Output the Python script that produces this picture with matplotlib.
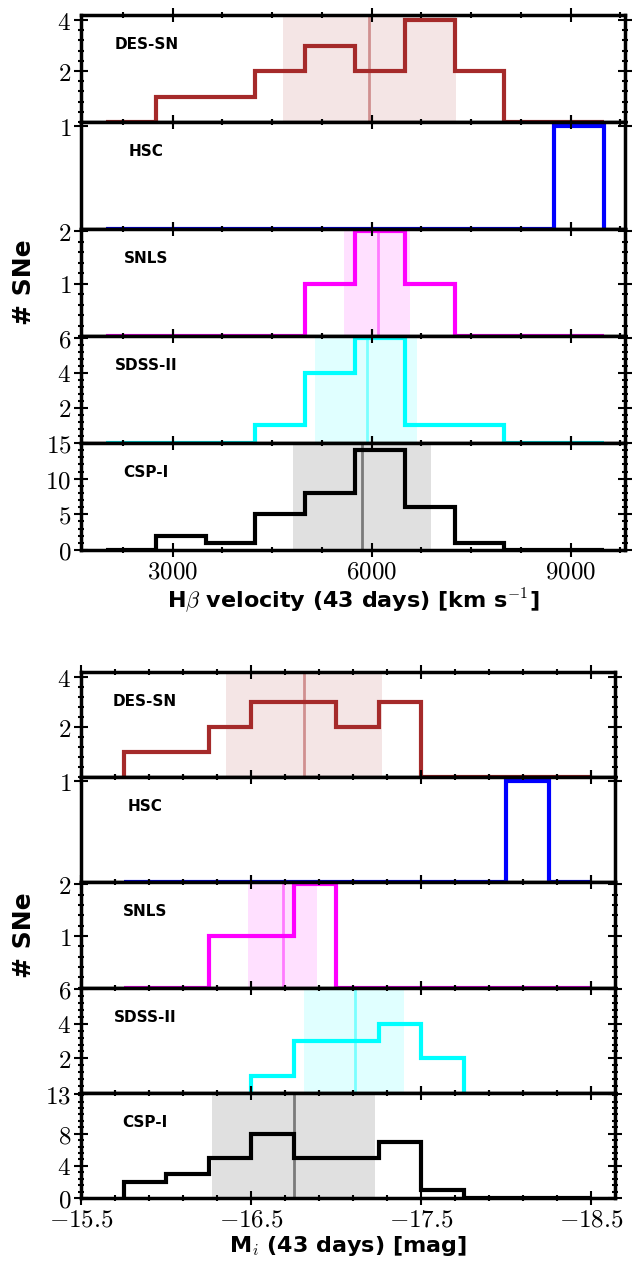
import matplotlib.pyplot as plt
import numpy as np
from matplotlib.ticker import AutoMinorLocator, FuncFormatter

plt.rcParams['mathtext.fontset'] = 'cm'
plt.rcParams['font.family'] = 'DejaVu Sans'

surveys = ['DES-SN', 'HSC', 'SNLS', 'SDSS-II', 'CSP-I']
colors = ['brown', 'blue', 'magenta', 'cyan', 'black']

# velocity panel
vel_edges = np.arange(2000, 9501, 750)
vel_counts = [
    [0, 1, 1, 2, 3, 2, 4, 2, 0, 0],
    [0, 0, 0, 0, 0, 0, 0, 0, 0, 1],
    [0, 0, 0, 0, 1, 2, 1, 0, 0, 0],
    [0, 0, 0, 1, 4, 6, 1, 1, 0, 0],
    [0, 2, 1, 5, 8, 14, 6, 1, 0, 0],
]
vel_median = [5960, None, 6090, 5930, 5860]
vel_band = [(4670, 7270), None, (5590, 6580), (5150, 6690), (4820, 6900)]
vel_ylim = [4.2, 1.04, 2.04, 6.1, 15]
vel_yticks = [[2, 4], [1], [1, 2], [2, 4, 6], [0, 5, 10, 15]]

# magnitude panel
mag_edges = -np.arange(15.75, 18.51, 0.25)
mag_counts = [
    [1, 1, 2, 3, 3, 2, 3, 0, 0, 0, 0],
    [0, 0, 0, 0, 0, 0, 0, 0, 0, 1, 0],
    [0, 0, 1, 1, 2, 0, 0, 0, 0, 0, 0],
    [np.nan, np.nan, np.nan, 1, 3, 3, 4, 2, np.nan, np.nan, np.nan],
    [2, 3, 5, 8, 5, 5, 7, 1, 0, 0, 0],
]
mag_median = [-16.81, None, -16.69, -17.11, -16.75]
mag_band = [(-16.35, -17.27), None, (-16.48, -16.89), (-16.81, -17.40), (-16.27, -17.23)]
mag_ylim = [4.2, 1.04, 2.04, 6.1, 13.1]
mag_yticks = [[2, 4], [1], [1, 2], [2, 4, 6], [0, 4, 8, 13]]

fig = plt.figure(figsize=(6.43, 12.71), dpi=100)
W, H = 643, 1271
mathfmt = FuncFormatter(lambda v, p: r'$%g$' % v)


def make_group(top, bottom, left, right, edges, counts, med, band, ylims, yticks,
               xlim, xticks, xminor, xlabel):
    ph = (bottom - top) / 5
    axes = []
    for i in range(5):
        y0 = 1 - (top + (i + 1) * ph) / H
        ax = fig.add_axes([left / W, y0, (right - left) / W, ph / H])
        c = colors[i]
        vals = np.array(counts[i], dtype=float)
        idx = np.where(~np.isnan(vals))[0]
        ax.stairs(vals[idx[0]:idx[-1] + 1], edges[idx[0]:idx[-1] + 2], color=c, lw=3, baseline=0)
        if band[i] is not None:
            ax.axvspan(band[i][0], band[i][1], color=c, alpha=0.12, lw=0)
            ax.axvline(med[i], color=c, alpha=0.45, lw=2)
        ax.set_xlim(*xlim)
        ax.set_ylim(0, ylims[i])
        ax.set_yticks(yticks[i])
        ax.set_xticks(xticks)
        ax.xaxis.set_minor_locator(AutoMinorLocator(xminor))
        ax.yaxis.set_minor_locator(AutoMinorLocator(5))
        ax.tick_params(which='both', direction='inout', top=True, right=True, width=1.5)
        ax.tick_params(which='major', length=10, labelsize=18, pad=2)
        ax.tick_params(which='minor', length=5)
        ax.yaxis.set_major_formatter(mathfmt)
        ax.xaxis.set_major_formatter(mathfmt)
        for s in ax.spines.values():
            s.set_linewidth(2.5)
        if i < 4:
            ax.tick_params(labelbottom=False)
        ax.text(0.12, 0.72, surveys[i], transform=ax.transAxes, fontsize=11,
                fontweight='bold', ha='center', va='center')
        axes.append(ax)
    axes[-1].set_xlabel(xlabel, fontsize=16, fontweight='bold', labelpad=2)
    fig.text(24 / W, 1 - (top + bottom) / 2 / H, '# SNe', rotation=90, fontsize=18,
             fontweight='bold', ha='center', va='center')
    return axes


make_group(15, 550, 81, 625, vel_edges, vel_counts, vel_median, vel_band, vel_ylim, vel_yticks,
           (1620, 9820), [3000, 6000, 9000], 4, r'H$\beta$ velocity (43 days) [km s$^{-1}$]')
make_group(672, 1198, 81, 615, mag_edges, mag_counts, mag_median, mag_band, mag_ylim, mag_yticks,
           (-15.5, -18.64), [-15.5, -16.5, -17.5, -18.5], 5, r'M$_i$ (43 days) [mag]')

fig.savefig('out.png', dpi=100)
